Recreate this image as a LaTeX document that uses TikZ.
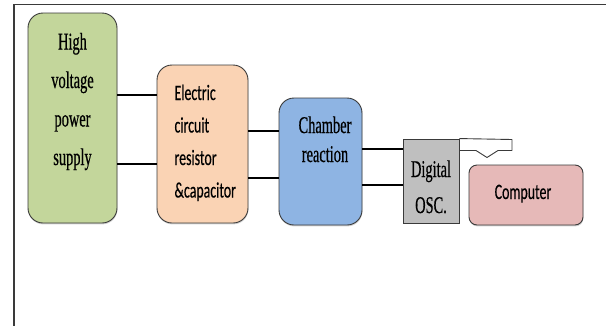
\documentclass[tikz,border=0pt]{standalone}
\usepackage{fontspec}
\newfontfamily\srf[FakeStretch=0.6,FakeBold=0.5]{Liberation Serif}
\newfontfamily\snf[FakeStretch=0.63,FakeBold=0.3]{Carlito}
\usetikzlibrary{shadows,calc}
\definecolor{cgreen}{HTML}{C3D69B}
\definecolor{corange}{HTML}{FAD3B4}
\definecolor{cblue}{HTML}{8EB4E3}
\definecolor{cgray}{HTML}{BFBFBF}
\definecolor{cpink}{HTML}{E6B9B8}
\definecolor{cedge}{HTML}{3A3A3A}
\tikzset{
  blk/.style={draw=cedge, line width=0.9pt, rectangle, inner sep=0pt,
    drop shadow={shadow xshift=0.4pt, shadow yshift=-1.4pt, opacity=0.35}},
  serif/.style={anchor=base, font=\srf\fontsize{24}{24}\selectfont, text=black},
  sans/.style={anchor=base west, font=\snf\fontsize{22}{22}\selectfont, text=black},
  sansc/.style={anchor=base, font=\snf\fontsize{22}{22}\selectfont, text=black},
  wire/.style={line width=1.1pt, black}
}
\begin{document}
\begin{tikzpicture}[x=1pt,y=-1pt]
\useasboundingbox (0,0) rectangle (606,325);
% frame
\draw[line width=1.8pt, draw=cedge] (14,326) -- (14,4.5) -- (607,4.5);
% boxes
\node[blk, fill=cgreen, rounded corners=15pt, minimum width=89pt, minimum height=210pt] (hv) at (72.5,118) {};
\node[blk, fill=corange, rounded corners=15pt, minimum width=91pt, minimum height=158pt] (ec) at (202.5,144) {};
\node[blk, fill=cblue, rounded corners=15pt, minimum width=83pt, minimum height=127pt] (ch) at (320.5,161.5) {};
\node[blk, fill=cgray, minimum width=56pt, minimum height=84pt] (osc) at (431,181) {};
\node[blk, fill=cpink, rounded corners=8pt, minimum width=114pt, minimum height=60pt] (pc) at (526,195) {};
% texts
\node[serif] (t1) at (72.5,49.5) {High};
\node[serif] (t2) at (72.5,88) {voltage};
\node[serif] (t3) at (72.5,126.5) {power};
\node[serif] (t4) at (72.5,165) {supply};
\node[sans] (e1) at (171,100) {Electric};
\node[sans] (e2) at (171,132.5) {circuit};
\node[sans] (e3) at (171,165) {resistor};
\node[sans] (e4) at (171,197.5) {\&capacitor};
\node[serif] (c1) at (325,133) {Chamber};
\node[serif] (c2) at (325,162) {reaction};
\node[serif] (d1) at (431,177) {Digital};
\node[serif] (d2) at (431,213) {OSC.};
\node[sansc] (p1) at (523,199) {Computer};
% wire rows
\coordinate (r1) at (0,95);
\coordinate (r2) at (0,164);
\coordinate (r3) at (0,131);
\coordinate (r4) at (0,178);
\coordinate (r5) at (0,149);
\coordinate (r6) at (0,185);
\draw[wire] (hv.east |- r1) -- (ec.west |- r1);
\draw[wire] (hv.east |- r2) -- (ec.west |- r2);
\draw[wire] (ec.east |- r3) -- (ch.west |- r3);
\draw[wire] (ec.east |- r4) -- (ch.west |- r4);
\draw[wire] (ch.east |- r5) -- (osc.west |- r5);
\draw[wire] (ch.east |- r6) -- (osc.west |- r6);
% bent hollow arrow from oscilloscope to computer
\coordinate (a1) at (512,139.5);
\coordinate (a2) at (512,150.5);
\coordinate (a3) at (498,150.5);
\coordinate (a4) at (487,157.5);
\coordinate (a5) at (476,150.5);
\draw[line width=0.9pt, draw=cedge, line join=round]
  (osc.north east) -- (a1) -- (a2) -- (a3) -- (a4) -- (a5) -- (osc.east |- a5);
\end{tikzpicture}
\end{document}
